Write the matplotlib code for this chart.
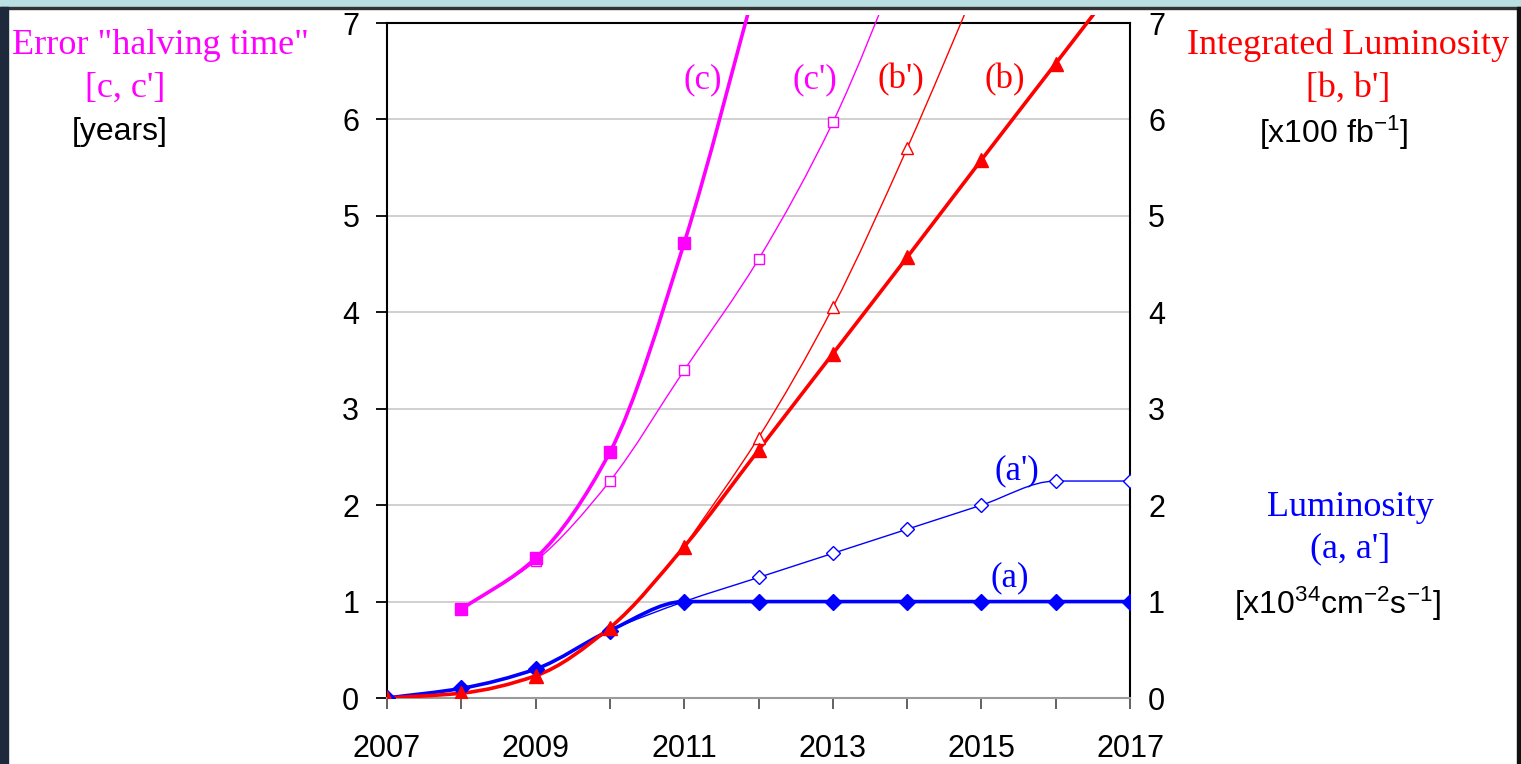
import matplotlib
matplotlib.use("Agg")
import numpy as np
import matplotlib.pyplot as plt
from matplotlib.patches import Rectangle, PathPatch
from matplotlib.path import Path

plt.rcParams['font.family'] = ['Liberation Sans', 'DejaVu Sans']
plt.rcParams['mathtext.fontset'] = 'custom'
plt.rcParams['mathtext.rm'] = 'Liberation Sans'
plt.rcParams['mathtext.it'] = 'Liberation Sans'

# LHC luminosity projections
years = list(range(2007, 2018))
lumi_a = [0, 0.1, 0.3, 0.7, 1.0, 1.0, 1.0, 1.0, 1.0, 1.0, 1.0]
lumi_a2 = [0, 0.1, 0.3, 0.7, 1.0, 1.25, 1.5, 1.75, 2.0, 2.25, 2.25]
intlumi_b = [0, 0.05, 0.23, 0.73, 1.57, 2.57, 3.57, 4.57, 5.58, 6.58, 7.58]
years_b2 = list(range(2011, 2016))
intlumi_b2 = [1.57, 2.7, 4.05, 5.7, 7.5]
years_c = list(range(2008, 2013))
halving_c = [0.92, 1.45, 2.55, 4.72, 7.5]
years_c2 = list(range(2008, 2015))
halving_c2 = [0.92, 1.42, 2.25, 3.4, 4.55, 5.97, 7.8]

BLUE, RED, MAG = '#0000ff', '#ff0000', '#ff00ff'
W, H = 1521, 764


def smooth_path(xs, ys):
    # monotone cubic (Fritsch-Carlson tangents) written as bezier segments
    x = np.asarray(xs, float)
    y = np.asarray(ys, float)
    h = np.diff(x)
    d = np.diff(y) / h
    m = np.zeros_like(y)
    m[0], m[-1] = d[0], d[-1]
    for i in range(1, len(y) - 1):
        if d[i - 1] * d[i] > 0:
            m[i] = 2 / (1 / d[i - 1] + 1 / d[i])
    verts = [(x[0], y[0])]
    codes = [Path.MOVETO]
    for i in range(len(h)):
        verts += [(x[i] + h[i] / 3, y[i] + m[i] * h[i] / 3),
                  (x[i + 1] - h[i] / 3, y[i + 1] - m[i + 1] * h[i] / 3),
                  (x[i + 1], y[i + 1])]
        codes += [Path.CURVE4] * 3
    return Path(verts, codes)


fig = plt.figure(figsize=(W / 100, H / 100), dpi=100)
fig.patch.set_facecolor('white')

# slide frame around the chart
fig.patches.append(Rectangle((0, 1 - 7 / H), 1, 7 / H, transform=fig.transFigure,
                             color='#b9dfe2', zorder=0))
fig.patches.append(Rectangle((0, 1 - 8.5 / H), 1, 1.5 / H, transform=fig.transFigure,
                             color='#333333', zorder=0))
fig.patches.append(Rectangle((0, 0), 8 / W, 1 - 7 / H, transform=fig.transFigure,
                             color='#1e2a3c', zorder=0))
fig.patches.append(Rectangle((1517 / W, 0), 4 / W, 1 - 7 / H, transform=fig.transFigure,
                             color='#111111', zorder=0))

ax = fig.add_axes([387 / W, 1 - 698 / H, (1130 - 387) / W, (698 - 23) / H])
ax.set_xlim(2007, 2017)
ax.set_ylim(0, 7)

clip = Rectangle((0, 0), 1, 1.012, transform=ax.transAxes)

series = [
    (years, lumi_a2, BLUE, 1.0, 'D', 'white', 7),
    (years_c2, halving_c2, MAG, 1.0, 's', 'white', 7),
    (years_b2, intlumi_b2, RED, 1.0, '^', 'white', 8),
    (years, lumi_a, BLUE, 2.6, 'D', BLUE, 8),
    (years_c, halving_c, MAG, 2.6, 's', MAG, 9),
    (years, intlumi_b, RED, 2.6, '^', RED, 10),
]
for xs, ys, col, lw, mk, mfc, ms in series:
    patch = PathPatch(smooth_path(xs, ys), fc='none', ec=col, lw=lw, zorder=3)
    ax.add_patch(patch)
    patch.set_clip_path(clip)
    ax.plot(xs, ys, ls='none', marker=mk, mfc=mfc, mec=col, ms=ms, mew=1.0, zorder=4)

ax.set_yticks(range(0, 8))
ax.grid(axis='y', color='#c8c8c8', lw=1.2)
ax.set_axisbelow(True)
ax.set_xticks(years)
ax.set_xticklabels([str(y) if y % 2 == 1 else '' for y in years])
ax.tick_params(axis='x', direction='out', length=8, width=1.3, color='#555555',
               labelsize=22, pad=18)
ax.tick_params(axis='y', direction='out', length=8, width=1.3, labelsize=22, pad=12)
ax.spines['bottom'].set_color('#9a9a9a')
ax.spines['bottom'].set_linewidth(1.5)
for s in ('left', 'right', 'top'):
    ax.spines[s].set_color('black')
    ax.spines[s].set_linewidth(1.5)

# right-hand scale, same range
ax2 = ax.twinx()
ax2.set_ylim(0, 7)
ax2.set_yticks(range(0, 8))
ax2.tick_params(axis='y', length=0, labelsize=22, pad=13)
for s in ax2.spines.values():
    s.set_visible(False)

# curve tags
tag_kw = dict(family='Liberation Serif', fontsize=25, ha='center', va='center')
ax.text(2011.25, 6.41, '(c)', color=MAG, **tag_kw)
ax.text(2012.76, 6.41, "(c')", color=MAG, **tag_kw)
ax.text(2013.92, 6.41, "(b')", color=RED, **tag_kw)
ax.text(2015.32, 6.41, '(b)', color=RED, **tag_kw)
ax.text(2015.48, 2.36, "(a')", color=BLUE, **tag_kw)
ax.text(2015.38, 1.25, '(a)', color=BLUE, **tag_kw)


def ftext(px, py, s, color, serif=True, size=26):
    fig.text(px / W, 1 - py / H, s, color=color, ha='center', va='center',
             fontsize=size, family='Liberation Serif' if serif else 'Liberation Sans')


ftext(160, 45, 'Error "halving time"', MAG)
ftext(125, 88, "[c, c']", MAG)
ftext(120, 132, '[years]', 'black', serif=False, size=23)

ftext(1348, 45, 'Integrated Luminosity', RED)
ftext(1348, 88, "[b, b']", RED)
ftext(1334, 133, '[x100 fb$^{-1}$]', 'black', serif=False, size=23)

ftext(1350, 507, 'Luminosity', BLUE)
ftext(1350, 549, "(a, a']", BLUE)
ftext(1338, 604, '[x10$^{34}$cm$^{-2}$s$^{-1}$]', 'black', serif=False, size=23)

fig.savefig('out.png', dpi=100)
